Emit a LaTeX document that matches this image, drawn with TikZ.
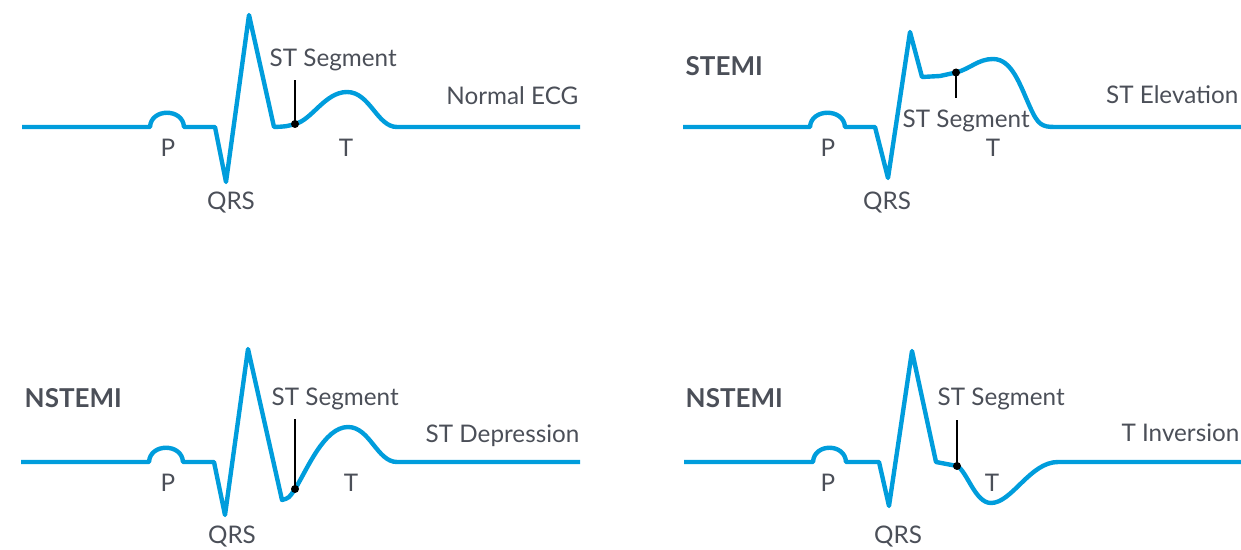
\documentclass[tikz,border=0pt]{standalone}
\usepackage{fontspec}
\setmainfont{Lato}
\usepackage{tikz}
\usetikzlibrary{positioning}
\usepackage{xcolor}
\definecolor{ecgblue}{RGB}{0,157,220}
\definecolor{labelgray}{RGB}{75,79,88}

\begin{document}
\begin{tikzpicture}[x=0.02cm, y=-0.02cm, thick]
        % Define styles
        \tikzstyle{trace} = [draw=ecgblue, line width=2.5pt, line join=round]
        \tikzstyle{pointer} = [draw=black, line width=0.85pt]
        \tikzstyle{dot} = [fill=black]
        \tikzstyle{label} = [text=labelgray, inner sep=0pt, font=\fontsize{13.8}{16}\selectfont]
        \tikzstyle{title} = [label, font=\fontsize{14.8}{17}\selectfont\bfseries]

        \useasboundingbox (0,0) rectangle (1241,550);

        % Define points on the ST segments
        \coordinate (st1) at (295,124);
        \coordinate (st1end) at (295,80);
        \coordinate (st2) at (956,72.5);
        \coordinate (st2end) at (956,98);
        \coordinate (st3) at (295,489);
        \coordinate (st3end) at (295,419);
        \coordinate (st4) at (957,466);
        \coordinate (st4end) at (957,420);

        % Normal ECG
        \path [trace] (22,127) -- (150,127) .. controls (151,108) and (183,108) .. (184,127) -- (215,127)
            -- (226,182) -- (249,15) -- (274,127) .. controls (286,126.5) .. (st1)
            .. controls (312,120) and (325,92) .. (347,92) .. controls (370,92) and (377,127) .. (397,127) -- (580,127);

        % STEMI
        \path [trace] (683,127) -- (810,127) .. controls (811,108) and (844,108) .. (845,127) -- (875,127)
            -- (888,178) -- (910,32) -- (922,77) -- (940,76) .. controls (948,74.5) .. (st2)
            .. controls (970,69) and (978,59) .. (993,59) .. controls (1012,59) and (1020,85) .. (1030,107)
            .. controls (1038,125) and (1042,127) .. (1055,127) -- (1241,127);

        % NSTEMI, ST depression
        \path [trace] (21,462) -- (149,462) .. controls (150,443) and (182,443) .. (183,462) -- (214,462)
            -- (225,515) -- (248,349) -- (282,500) .. controls (289,498) .. (st3)
            .. controls (307,470) and (324,427) .. (348,427) .. controls (370,427) and (377,462) .. (397,462) -- (580,462);

        % NSTEMI, T inversion
        \path [trace] (684,462) -- (813,462) .. controls (814,443) and (845,443) .. (846,462) -- (879,462)
            -- (889,506) -- (912,351) -- (936,462) .. controls (947,464) .. (st4)
            .. controls (967,471) and (975,503) .. (991,503) .. controls (1012,503) and (1030,462) .. (1058,462) -- (1241,462);

        % ST segment pointers
        \path [pointer] (st1) -- (st1end);
        \path [pointer] (st2) -- (st2end);
        \path [pointer] (st3) -- (st3end);
        \path [pointer] (st4) -- (st4end);
        \fill [dot] (st1) circle (0.08cm);
        \fill [dot] (st2) circle (0.08cm);
        \fill [dot] (st3) circle (0.08cm);
        \fill [dot] (st4) circle (0.08cm);

        % Define nodes
        \node [label, anchor=base west] (seg1) at (269,67) {ST Segment};
        \node [label, anchor=base east] (name1) at (579,105) {Normal ECG};
        \node [label, anchor=base] (P1) at (168,157) {P};
        \node [label, anchor=base] (T1) at (346,157) {T};
        \node [label, anchor=base] (QRS1) at (231,210) {QRS};

        \node [title, anchor=base west] (kind2) at (685,76) {STEMI};
        \node [label, anchor=base west] (seg2) at (902,128) {ST Segment};
        \node [label, anchor=base east] (name2) at (1239,104) {ST Elevation};
        \node [label, anchor=base] (P2) at (828,157) {P};
        \node [label, anchor=base] (T2) at (993,157) {T};
        \node [label, anchor=base] (QRS2) at (887,210) {QRS};

        \node [title, anchor=base west] (kind3) at (24,408) {NSTEMI};
        \node [label, anchor=base west] (seg3) at (271,406) {ST Segment};
        \node [label, anchor=base east] (name3) at (580,442) {ST Depression};
        \node [label, anchor=base] (P3) at (168,492) {P};
        \node [label, anchor=base] (T3) at (351,492) {T};
        \node [label, anchor=base] (QRS3) at (232,543) {QRS};

        \node [title, anchor=base west] (kind4) at (685,408) {NSTEMI};
        \node [label, anchor=base west] (seg4) at (937,406) {ST Segment};
        \node [label, anchor=base east] (name4) at (1240,441) {T Inversion};
        \node [label, anchor=base] (P4) at (828,492) {P};
        \node [label, anchor=base] (T4) at (992,492) {T};
        \node [label, anchor=base] (QRS4) at (898,543) {QRS};

    \end{tikzpicture}
\end{document}
